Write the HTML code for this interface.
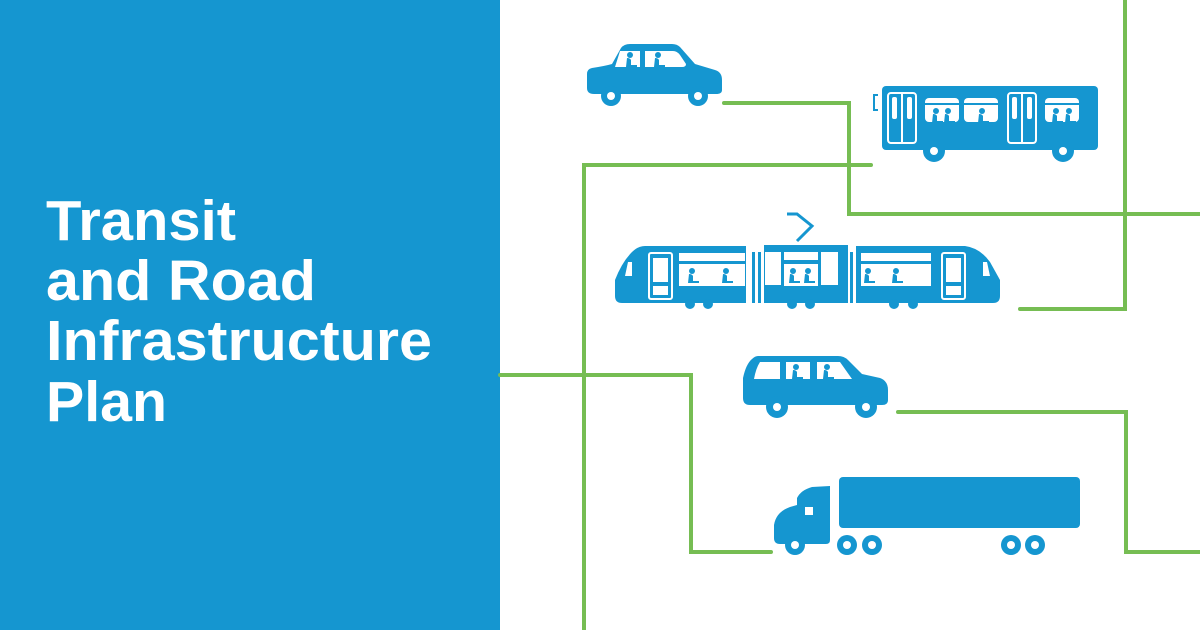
<!DOCTYPE html>
<html><head><meta charset="utf-8"><style>
html,body{margin:0;padding:0;background:#fff}
svg{display:block}
</style></head><body>
<svg width="1200" height="630" viewBox="0 0 1200 630" xmlns="http://www.w3.org/2000/svg">
<defs>
<g id="p"><circle cx="0" cy="0" r="3" fill="#1596d0"/><path d="M-3,3 L-4,12 L7,12 L7,10 L1,10 L1,5 Q0,3 -3,3Z" fill="#1596d0"/></g>
</defs>
<rect x="0" y="0" width="500" height="630" fill="#1596d0"/>
<g font-family="Liberation Sans, sans-serif" font-weight="bold" font-size="57" fill="#fff">
<text x="46" y="240" textLength="190" lengthAdjust="spacingAndGlyphs">Transit</text>
<text x="46" y="300" textLength="270" lengthAdjust="spacingAndGlyphs">and Road</text>
<text x="46" y="360" textLength="386" lengthAdjust="spacingAndGlyphs">Infrastructure</text>
<text x="46" y="421" textLength="121" lengthAdjust="spacingAndGlyphs">Plan</text>
</g>
<g fill="none" stroke="#76bd53" stroke-width="4" stroke-linecap="round" stroke-linejoin="miter">
<polyline points="724,103 849,103 849,214 1202,214"/>
<polyline points="584,632 584,165 871,165"/>
<polyline points="1125,-2 1125,309 1020,309"/>
<polyline points="500,375 691,375 691,552 771,552"/>
<polyline points="898,412 1126,412 1126,552 1202,552"/>
</g>
<g fill="#1596d0">
<!-- car -->
<path d="M592,68 Q605,66 612,64 L621,48 Q624,44 630,44 L672,44 Q677,44 680,47 L695,64 L715,70 Q722,72 722,80 L722,90 Q722,94 716,94 L594,94 Q587,94 587,88 L587,74 Q587,69 592,68Z"/>
<path d="M620,51 L640,51 L640,67 L615,67Z M645,51 L673,51 Q677,51 680,55 L686,64 Q686,67 682,67 L645,67Z" fill="#fff"/>
<use href="#p" x="630" y="55"/><use href="#p" x="658" y="55"/>
<circle cx="611" cy="96" r="10"/><circle cx="698" cy="96" r="10"/>
<circle cx="611" cy="96" r="4" fill="#fff"/><circle cx="698" cy="96" r="4" fill="#fff"/>
<!-- bus -->
<rect x="882" y="86" width="216" height="64" rx="4"/>
<path d="M878,95 L874,95 L874,110 L878,110" fill="none" stroke="#1596d0" stroke-width="2"/>
<g fill="none" stroke="#fff" stroke-width="2">
<rect x="888" y="93" width="28" height="50" rx="3"/><line x1="902" y1="93" x2="902" y2="143"/>
<rect x="1008" y="93" width="28" height="50" rx="3"/><line x1="1022" y1="93" x2="1022" y2="143"/>
</g>
<g fill="#fff">
<rect x="892" y="97" width="5" height="22" rx="2"/><rect x="907" y="97" width="5" height="22" rx="2"/>
<rect x="1012" y="97" width="5" height="22" rx="2"/><rect x="1027" y="97" width="5" height="22" rx="2"/>
<rect x="925" y="98" width="34" height="24" rx="4"/><rect x="964" y="98" width="34" height="24" rx="4"/><rect x="1045" y="98" width="34" height="24" rx="4"/>
</g>
<rect x="925" y="103" width="34" height="2" fill="#1596d0"/><rect x="964" y="103" width="34" height="2" fill="#1596d0"/><rect x="1045" y="103" width="34" height="2" fill="#1596d0"/>
<use href="#p" x="936" y="111"/><use href="#p" x="948" y="111"/><use href="#p" x="982" y="111"/><use href="#p" x="1056" y="111"/><use href="#p" x="1069" y="111"/>
<circle cx="934" cy="151" r="11"/><circle cx="1063" cy="151" r="11"/>
<circle cx="934" cy="151" r="4" fill="#fff"/><circle cx="1063" cy="151" r="4" fill="#fff"/>
<!-- tram -->
<path d="M787,214 L797,214 L812,226 L797,241" fill="none" stroke="#1596d0" stroke-width="3"/>
<path d="M645,246 L746,246 L746,303 L622,303 Q615,303 615,296 L615,280 Q622,262 632,252 Q638,246 645,246Z"/>
<rect x="764" y="245" width="84" height="58"/>
<path d="M856,246 L965,246 Q980,248 990,262 L1000,280 L1000,296 Q1000,303 993,303 L856,303Z"/>
<rect x="752" y="252" width="3" height="51"/><rect x="758" y="252" width="3" height="51"/>
<rect x="850" y="252" width="3" height="51"/><rect x="856" y="252" width="2" height="51"/>
<g fill="#fff">
<rect x="649" y="253" width="23" height="46" rx="2" fill="none" stroke="#fff" stroke-width="2"/>
<rect x="653" y="258" width="15" height="24"/><rect x="653" y="286" width="15" height="9"/>
<rect x="679" y="253" width="66" height="8"/><rect x="679" y="264" width="66" height="22"/>
<rect x="765" y="252" width="16" height="33"/><rect x="784" y="252" width="34" height="8"/><rect x="784" y="264" width="34" height="22"/><rect x="821" y="252" width="17" height="33"/>
<rect x="861" y="253" width="70" height="8"/><rect x="861" y="264" width="70" height="22"/>
<rect x="942" y="253" width="23" height="46" rx="2" fill="none" stroke="#fff" stroke-width="2"/>
<rect x="946" y="258" width="15" height="24"/><rect x="946" y="286" width="15" height="9"/>
<path d="M628,262 L632,262 L632,276 L625,276Z"/><path d="M987,262 L983,262 L983,276 L990,276Z"/>
</g>
<use href="#p" x="692" y="271"/><use href="#p" x="726" y="271"/><use href="#p" x="793" y="271"/><use href="#p" x="808" y="271"/><use href="#p" x="868" y="271"/><use href="#p" x="896" y="271"/>
<circle cx="690" cy="304" r="5"/><circle cx="708" cy="304" r="5"/><circle cx="792" cy="304" r="5"/><circle cx="810" cy="304" r="5"/><circle cx="894" cy="304" r="5"/><circle cx="913" cy="304" r="5"/>
<!-- van -->
<path d="M758,356 L838,356 Q844,356 848,360 L862,374 L880,378 Q888,381 888,390 L888,400 Q888,405 882,405 L750,405 Q743,405 743,398 L743,378 Q746,364 752,359 Q755,356 758,356Z"/>
<path d="M760,362 L780,362 L780,379 L754,379 Q756,368 760,362Z M786,362 L810,362 L810,379 L786,379Z M817,362 L840,362 L852,379 L817,379Z" fill="#fff"/>
<use href="#p" x="796" y="367"/><use href="#p" x="827" y="367"/>
<circle cx="777" cy="407" r="11"/><circle cx="866" cy="407" r="11"/>
<circle cx="777" cy="407" r="4" fill="#fff"/><circle cx="866" cy="407" r="4" fill="#fff"/>
<!-- truck -->
<rect x="839" y="477" width="241" height="51" rx="4"/>
<path d="M830,486 L830,540 Q830,544 826,544 L780,544 Q774,544 774,538 L774,525 Q776,512 790,507 L797,505 L797,498 Q801,490 812,487 Z"/>
<rect x="805" y="507" width="8" height="8" fill="#fff"/>
<circle cx="795" cy="545" r="10"/><circle cx="847" cy="545" r="10"/><circle cx="872" cy="545" r="10"/><circle cx="1011" cy="545" r="10"/><circle cx="1035" cy="545" r="10"/>
<g fill="#fff"><circle cx="795" cy="545" r="4"/><circle cx="847" cy="545" r="4"/><circle cx="872" cy="545" r="4"/><circle cx="1011" cy="545" r="4"/><circle cx="1035" cy="545" r="4"/></g>
</g>
</svg>
</body></html>
